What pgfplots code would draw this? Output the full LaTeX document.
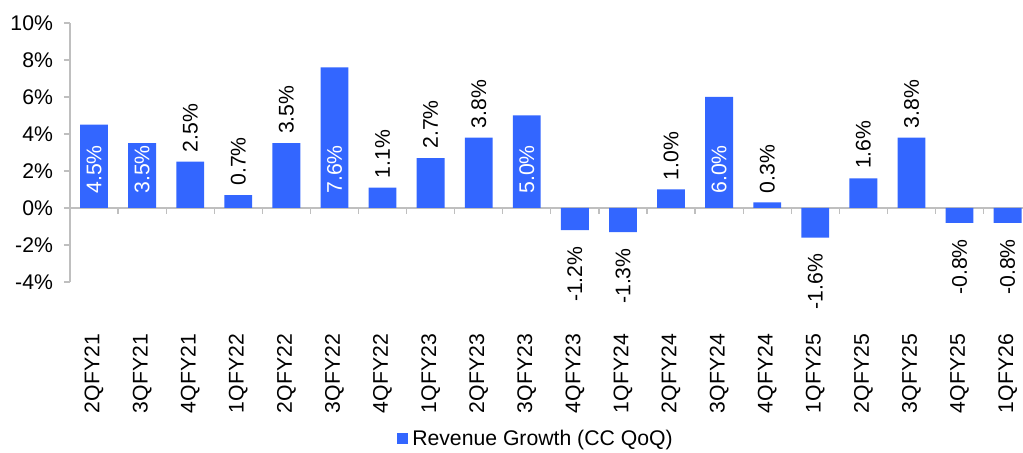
\documentclass[border=0pt]{standalone}
\usepackage{pgfplots}
\pgfplotsset{compat=1.18}
\usepackage{fontspec}
\setmainfont{Liberation Sans}
\definecolor{barblue}{RGB}{51,102,255}
\definecolor{axisgray}{RGB}{191,191,191}
\newcommand{\lf}{\fontsize{10.6}{12.7}\selectfont}
\begin{document}
\begin{tikzpicture}
\begin{axis}[
  name=ax,
  scale only axis,
  width=476.5pt, height=129.5pt,
  xmin=-0.5, xmax=19.32,
  ymin=-4, ymax=10,
  axis x line=middle, axis y line=left,
  axis line style={-, draw=axisgray, line width=0.6pt},
  tick style={draw=axisgray, line width=0.6pt},
  major tick length=3pt,
  tick align=outside,
  ytick={-4,-2,...,10},
  yticklabels={-4\%,-2\%,0\%,2\%,4\%,6\%,8\%,10\%},
  yticklabel style={font=\lf, xshift=-2pt},
  xtick={-0.5,0.5,...,19.5},
  xticklabels={},
  extra x ticks={0,...,19},
  extra x tick labels={2QFY21,3QFY21,4QFY21,1QFY22,2QFY22,3QFY22,4QFY22,1QFY23,2QFY23,3QFY23,4QFY23,1QFY24,2QFY24,3QFY24,4QFY24,1QFY25,2QFY25,3QFY25,4QFY25,1QFY26},
  extra x tick style={major tick length=0pt, xticklabel style={font=\lf, yshift=-59.5pt, rotate=90, anchor=east}},
  legend style={at={(0.49,-0.606)}, anchor=center, draw=none, font=\lf, inner sep=0pt},
  legend image code/.code={\fill[barblue] (0pt,-2.75pt) rectangle (5.5pt,2.75pt);},
]
\addplot[ybar, bar width=0.58, fill=barblue, draw=none] coordinates {
(0,4.5) (1,3.5) (2,2.5) (3,0.7) (4,3.5) (5,7.6) (6,1.1) (7,2.7) (8,3.8) (9,5.0)
(10,-1.2) (11,-1.3) (12,1.0) (13,6.0) (14,0.3) (15,-1.6) (16,1.6) (17,3.8) (18,-0.8) (19,-0.8)};
\addlegendentry{Revenue Growth (CC QoQ)}
\addplot[draw=none, forget plot, nodes near coords, point meta=explicit symbolic,
  nodes near coords style={font=\lf, text=white, rotate=90, anchor=west, inner sep=7pt}]
  coordinates {(0,0) [4.5\%] (1,0) [3.5\%] (5,0) [7.6\%] (9,0) [5.0\%] (13,0) [6.0\%]};
\addplot[draw=none, forget plot, nodes near coords, point meta=explicit symbolic,
  nodes near coords style={font=\lf, text=black, rotate=90, anchor=west, inner sep=4.5pt}]
  coordinates {(2,2.5) [2.5\%] (3,0.7) [0.7\%] (4,3.5) [3.5\%] (6,1.1) [1.1\%] (7,2.7) [2.7\%] (8,3.8) [3.8\%] (12,1.0) [1.0\%] (14,0.3) [0.3\%] (16,1.6) [1.6\%] (17,3.8) [3.8\%]};
\addplot[draw=none, forget plot, nodes near coords, point meta=explicit symbolic,
  nodes near coords style={font=\lf, text=black, rotate=90, anchor=east, inner sep=8pt}]
  coordinates {(10,-1.2) [-1.2\%] (11,-1.3) [-1.3\%] (15,-1.6) [-1.6\%] (18,-0.8) [-0.8\%] (19,-0.8) [-0.8\%]};
\end{axis}
\pgfresetboundingbox
\path ([shift={(-35pt,-85.5pt)}]ax.south west) rectangle ([shift={(0pt,11.5pt)}]ax.north east);
\end{tikzpicture}
\end{document}
